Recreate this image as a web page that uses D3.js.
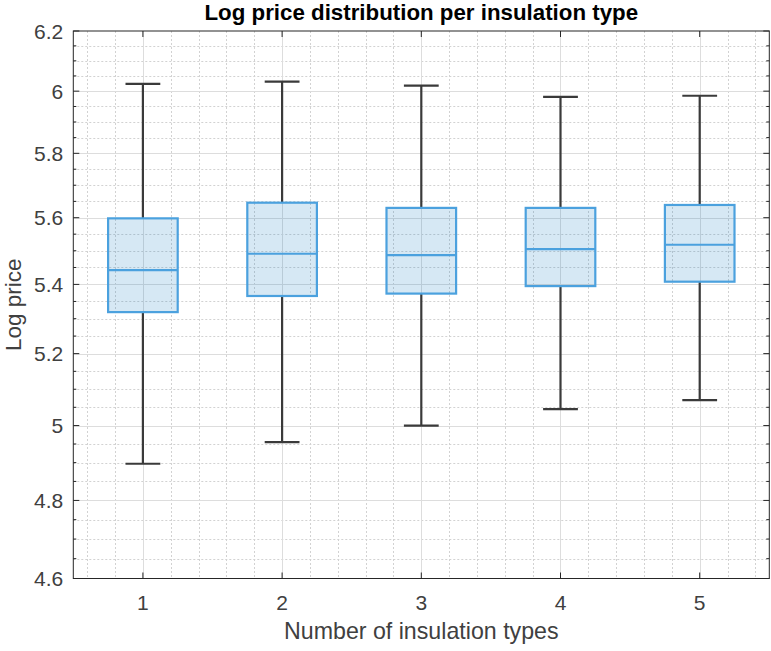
<!DOCTYPE html>
<html>
<head>
<meta charset="utf-8">
<script src="https://cdn.jsdelivr.net/npm/d3@7"></script>
<style>
  html, body { margin: 0; padding: 0; background: #fff; }
  svg { display: block; font-family: "Liberation Sans", Arial, Helvetica, sans-serif; }
</style>
</head>
<body>
<svg id="chart" width="771" height="651"></svg>
<script>
// Box statistics of log price per number of insulation types
const categories = [1, 2, 3, 4, 5];
const whiskerHigh = [6.024, 6.031, 6.018, 5.981, 5.985];
const q3 = [5.598, 5.646, 5.630, 5.630, 5.639];
const median = [5.442, 5.491, 5.487, 5.505, 5.518];
const q1 = [5.319, 5.366, 5.373, 5.395, 5.408];
const whiskerLow = [4.897, 4.955, 5.000, 5.045, 5.070];

const yTicks = [4.6, 4.8, 5, 5.2, 5.4, 5.6, 5.8, 6, 6.2];
const yTickLabels = ["4.6", "4.8", "5", "5.2", "5.4", "5.6", "5.8", "6", "6.2"];

const chartTitle = "Log price distribution per insulation type";
const xLabel = "Number of insulation types";
const yLabel = "Log price";

(function draw() {
  const yMinor = d3.range(4.65, 6.2, 0.05).map(v => +v.toFixed(2))
    .filter(v => !yTicks.some(t => Math.abs(t - v) < 1e-6));
  const xMinor = d3.range(0.6, 5.5, 0.2).map(v => +v.toFixed(1))
    .filter(v => !categories.some(c => Math.abs(c - v) < 1e-6));

  const rows = categories.map((c, i) => ({
    c, hi: whiskerHigh[i], q3: q3[i], med: median[i], q1: q1[i], lo: whiskerLow[i]
  }));

  const pL = 73.3, pR = 769.3, pT = 31, pB = 578.5;
  const svg = d3.select("#chart");

  const x = d3.scaleLinear().domain([0.5, 5.5]).range([pL, pR]);
  const y = d3.scaleLog().domain([4.6, 6.2]).range([pB, pT]);

  const boxW = x(1.25) - x(1);       // half-width of a box
  const capW = x(1.125) - x(1);      // half-width of a whisker cap

  const axisColor = "#262626";
  const textColor = "#404040";
  const crisp = v => Math.round(v) + 0.5;

  svg.append("rect").attr("width", 771).attr("height", 651).attr("fill", "#fff");

  // Minor grid (dotted)
  const minor = svg.append("g").attr("stroke", "#d2d2d2").attr("stroke-width", 1).attr("stroke-dasharray", "2,2");
  minor.selectAll("line.ym").data(yMinor).join("line").attr("class", "ym")
    .attr("x1", pL).attr("x2", pR)
    .attr("y1", d => crisp(y(d))).attr("y2", d => crisp(y(d)));
  minor.selectAll("line.xm").data(xMinor).join("line").attr("class", "xm")
    .attr("y1", pT).attr("y2", pB)
    .attr("x1", d => crisp(x(d))).attr("x2", d => crisp(x(d)));

  // Major grid (solid)
  const major = svg.append("g").attr("stroke", "#dddddd").attr("stroke-width", 1);
  major.selectAll("line.ym").data(yTicks.slice(1, -1)).join("line").attr("class", "ym")
    .attr("x1", pL).attr("x2", pR)
    .attr("y1", d => crisp(y(d))).attr("y2", d => crisp(y(d)));
  major.selectAll("line.xm").data(categories).join("line").attr("class", "xm")
    .attr("y1", pT).attr("y2", pB)
    .attr("x1", d => crisp(x(d))).attr("x2", d => crisp(x(d)));

  // Whiskers and caps
  const wk = svg.append("g").attr("stroke", "#3a3a3a").attr("stroke-width", 2.2);
  wk.selectAll("line.up").data(rows).join("line").attr("class", "up")
    .attr("x1", d => x(d.c)).attr("x2", d => x(d.c))
    .attr("y1", d => y(d.q3)).attr("y2", d => y(d.hi));
  wk.selectAll("line.dn").data(rows).join("line").attr("class", "dn")
    .attr("x1", d => x(d.c)).attr("x2", d => x(d.c))
    .attr("y1", d => y(d.q1)).attr("y2", d => y(d.lo));
  wk.selectAll("line.capHi").data(rows).join("line").attr("class", "capHi")
    .attr("x1", d => x(d.c) - capW).attr("x2", d => x(d.c) + capW)
    .attr("y1", d => y(d.hi)).attr("y2", d => y(d.hi));
  wk.selectAll("line.capLo").data(rows).join("line").attr("class", "capLo")
    .attr("x1", d => x(d.c) - capW).attr("x2", d => x(d.c) + capW)
    .attr("y1", d => y(d.lo)).attr("y2", d => y(d.lo));

  // Boxes with translucent face and median line
  const boxStroke = "#4ba1de";
  const bx = svg.append("g");
  bx.selectAll("rect").data(rows).join("rect")
    .attr("x", d => x(d.c) - boxW).attr("width", 2 * boxW)
    .attr("y", d => y(d.q3)).attr("height", d => y(d.q1) - y(d.q3))
    .attr("fill", "rgb(0,114,189)").attr("fill-opacity", 0.16)
    .attr("stroke", boxStroke).attr("stroke-width", 2.2);
  bx.selectAll("line").data(rows).join("line")
    .attr("x1", d => x(d.c) - boxW).attr("x2", d => x(d.c) + boxW)
    .attr("y1", d => y(d.med)).attr("y2", d => y(d.med))
    .attr("stroke", boxStroke).attr("stroke-width", 2.2);

  // Axes frame and tick marks
  const ax = svg.append("g").attr("stroke", axisColor).attr("stroke-width", 1);
  ax.append("rect").attr("x", pL).attr("y", pT).attr("width", pR - pL).attr("height", pB - pT)
    .attr("fill", "none");
  const tickSet = (cls, data, attrs) => {
    const s = ax.selectAll("line." + cls).data(data).join("line").attr("class", cls);
    Object.entries(attrs).forEach(([k, v]) => s.attr(k, v));
  };
  tickSet("yl", yTicks, { x1: pL, x2: pL + 6, y1: d => y(d), y2: d => y(d) });
  tickSet("yr", yTicks, { x1: pR, x2: pR - 6, y1: d => y(d), y2: d => y(d) });
  tickSet("yml", yMinor, { x1: pL, x2: pL + 3, y1: d => y(d), y2: d => y(d) });
  tickSet("ymr", yMinor, { x1: pR, x2: pR - 3, y1: d => y(d), y2: d => y(d) });
  tickSet("xb", categories, { x1: d => x(d), x2: d => x(d), y1: pB, y2: pB - 6 });
  tickSet("xt", categories, { x1: d => x(d), x2: d => x(d), y1: pT, y2: pT + 6 });

  // Tick labels
  svg.append("g").selectAll("text").data(yTicks).join("text")
    .attr("x", pL - 10).attr("y", d => y(d)).attr("dy", "0.36em")
    .attr("text-anchor", "end").attr("font-size", 21).attr("fill", textColor)
    .text((d, i) => yTickLabels[i]);
  svg.append("g").selectAll("text").data(categories).join("text")
    .attr("x", d => x(d)).attr("y", 610)
    .attr("text-anchor", "middle").attr("font-size", 21).attr("fill", textColor)
    .text(d => d);

  // Title and axis labels
  svg.append("text").attr("x", (pL + pR) / 2).attr("y", 20)
    .attr("text-anchor", "middle").attr("font-size", 22.3).attr("font-weight", "bold").attr("fill", "#000")
    .text(chartTitle);
  svg.append("text").attr("x", (pL + pR) / 2).attr("y", 639)
    .attr("text-anchor", "middle").attr("font-size", 23.2).attr("fill", textColor)
    .text(xLabel);
  svg.append("text").attr("transform", `translate(21,${(pT + pB) / 2}) rotate(-90)`)
    .attr("text-anchor", "middle").attr("font-size", 22.5).attr("fill", textColor)
    .text(yLabel);
})();
</script>
</body>
</html>
